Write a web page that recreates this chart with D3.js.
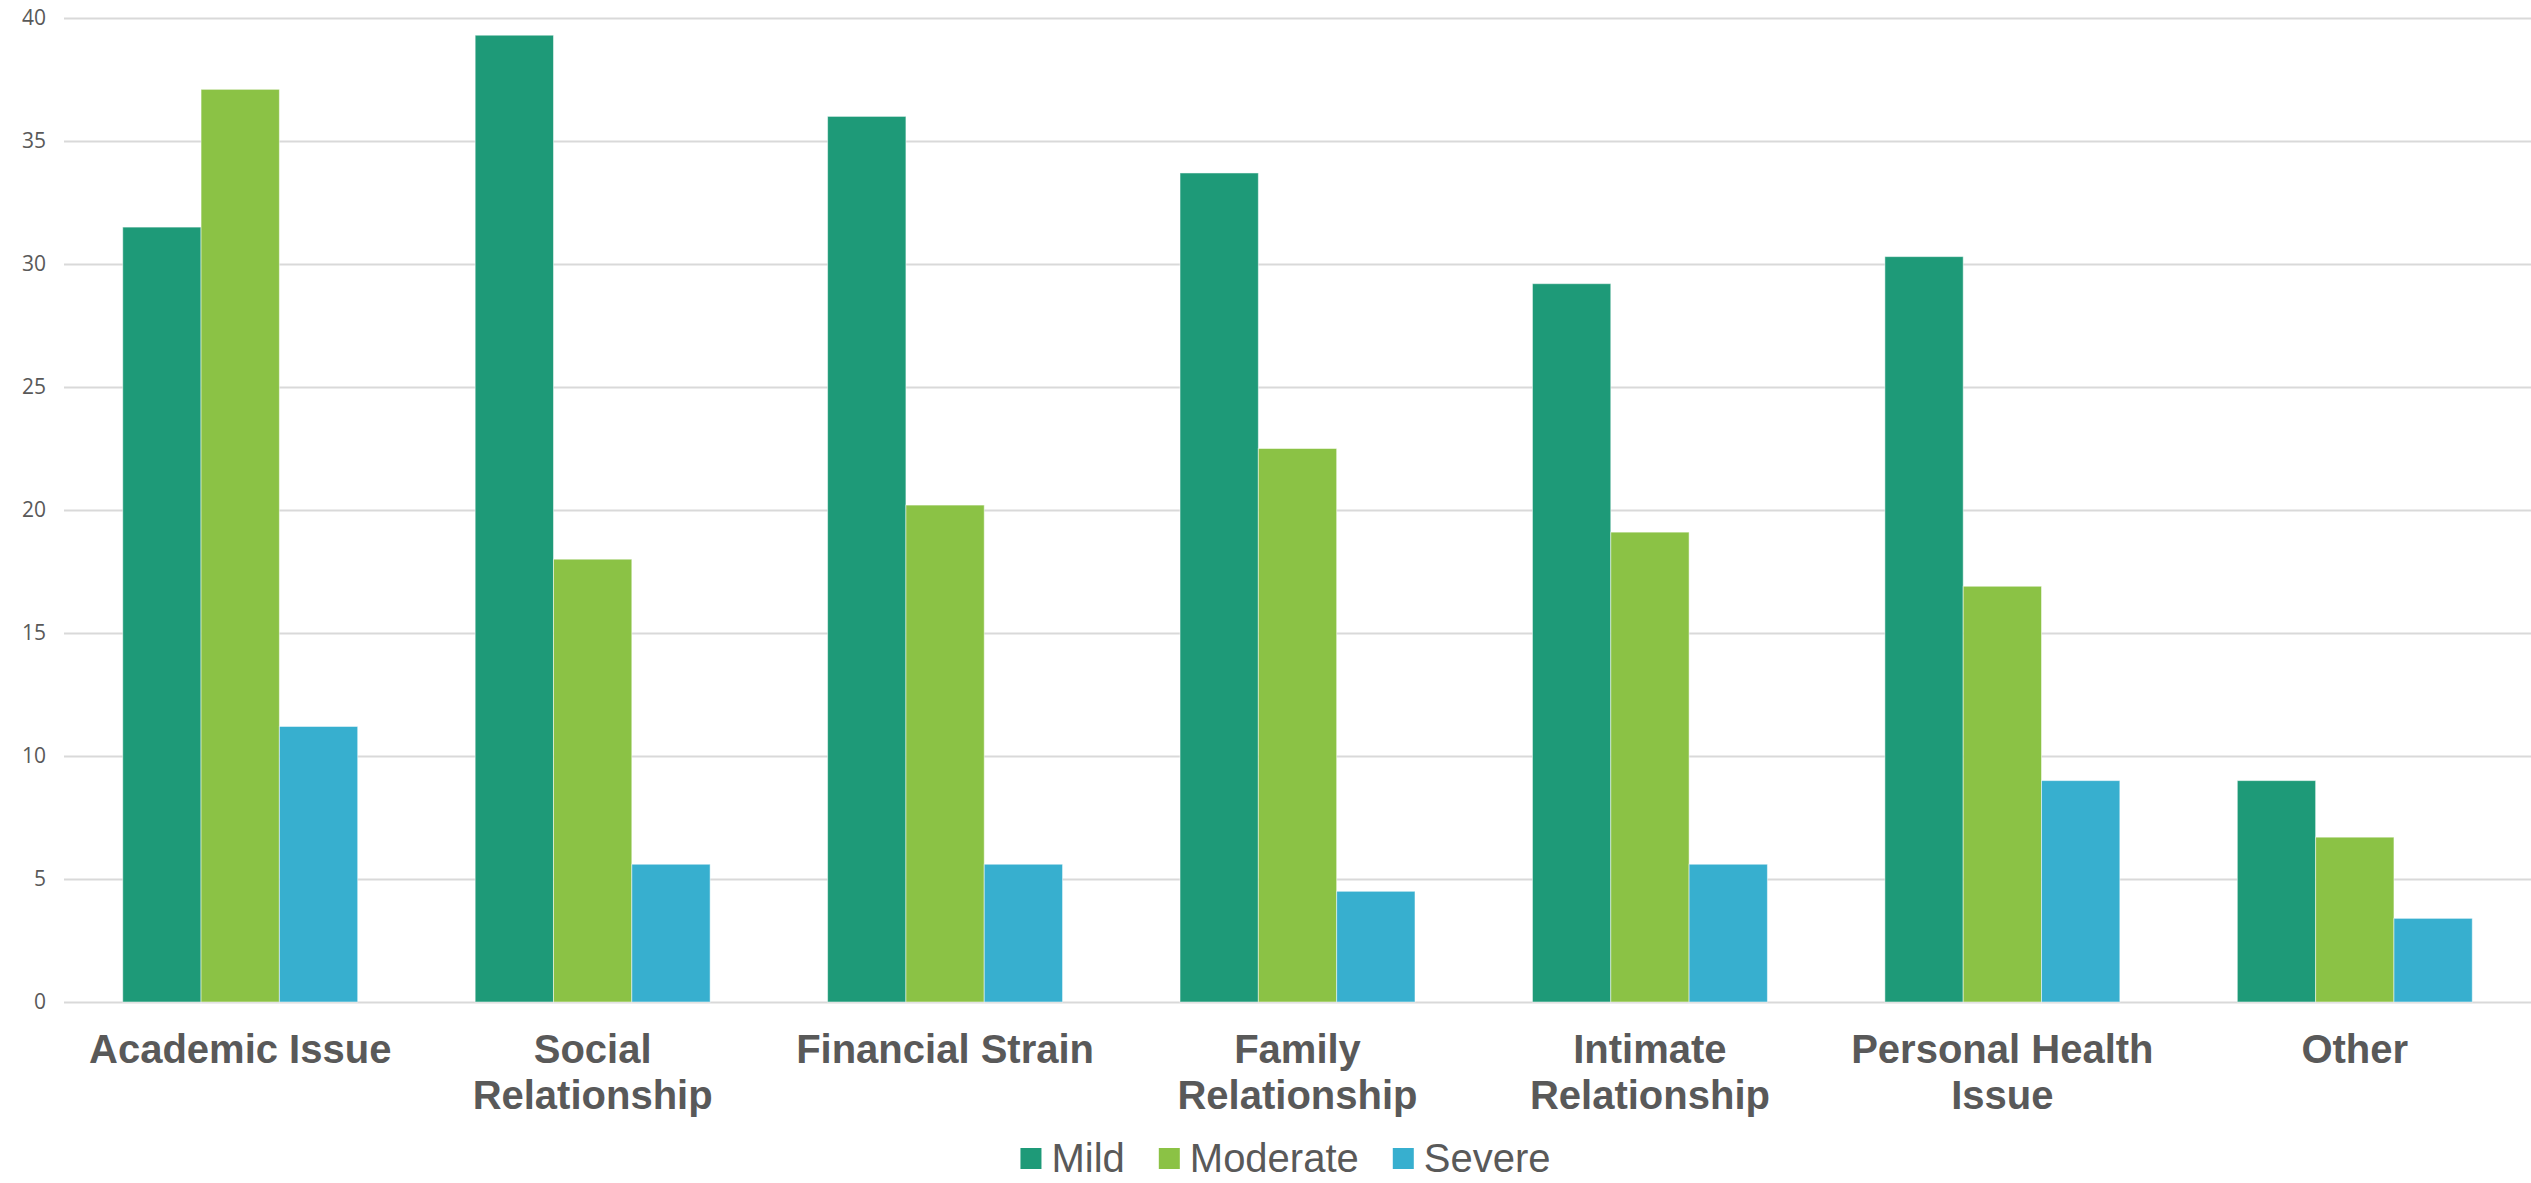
<!DOCTYPE html>
<html>
<head>
<meta charset="utf-8">
<script src="https://cdn.jsdelivr.net/npm/d3@7"></script>
<style>
  html, body { margin: 0; padding: 0; background: #fff; }
  svg { display: block; }
</style>
</head>
<body>
<svg id="chart"></svg>
<script>
// chart data
const categories = [
    ['Academic Issue'],
    ['Social', 'Relationship'],
    ['Financial Strain'],
    ['Family', 'Relationship'],
    ['Intimate', 'Relationship'],
    ['Personal Health', 'Issue'],
    ['Other'],
]
const seriesNames = ['Mild', 'Moderate', 'Severe']
const mild = [31.5, 39.3, 36.0, 33.7, 29.2, 30.3, 9.0]
const moderate = [37.1, 18.0, 20.2, 22.5, 19.1, 16.9, 6.7]
const severe = [11.2, 5.6, 5.6, 4.5, 5.6, 9.0, 3.4]
const yTicks = [0, 5, 10, 15, 20, 25, 30, 35, 40]

const width = 2531
const height = 1183
const margin = { left: 64, right: 0, top: 18, bottom: 181 }

const colors = ['#1e9a78', '#8bc245', '#37afcf']
const textGrey = '#595959'

const svg = d3.select('#chart').attr('width', width).attr('height', height)

const catKeys = categories.map((c) => c.join(' '))
const seriesValues = [mild, moderate, severe]

const x0 = d3.scaleBand()
    .domain(catKeys)
    .range([margin.left, width - margin.right])
    .paddingInner(1 / 3)
    .paddingOuter(1 / 6)

const x1 = d3.scaleBand()
    .domain(seriesNames)
    .range([0, x0.bandwidth()])

const y = d3.scaleLinear()
    .domain([0, 40])
    .range([height - margin.bottom, margin.top])

// gridlines + y labels
const yAxis = d3.axisLeft(y)
    .tickValues(yTicks)
    .tickSize(-(width - margin.left - margin.right))
    .tickPadding(18)

const yG = svg.append('g')
    .attr('transform', `translate(${margin.left},0)`)
    .call(yAxis)
yG.select('.domain').remove()
yG.selectAll('.tick line').attr('stroke', '#d9d9d9').attr('stroke-width', 2)
yG.selectAll('.tick text')
    .attr('fill', textGrey)
    .style('font-family', '"Open Sans", "Liberation Sans", sans-serif')
    .style('font-size', '21px')

// bars
const groups = svg.append('g')
    .selectAll('g')
    .data(catKeys)
    .join('g')
    .attr('transform', (d) => `translate(${x0(d)},0)`)

groups.selectAll('rect')
    .data((d, i) => seriesNames.map((s, j) => ({ s, j, v: seriesValues[j][i] })))
    .join('rect')
    .attr('x', (d) => x1(d.s))
    .attr('width', x1.bandwidth())
    .attr('y', (d) => y(d.v))
    .attr('height', (d) => y(0) - y(d.v))
    .attr('fill', (d) => colors[d.j])
    .attr('stroke', '#ffffff')
    .attr('stroke-opacity', 0.5)
    .attr('stroke-width', 1)

// category labels
const labels = svg.append('g')
    .selectAll('text')
    .data(categories)
    .join('text')
    .attr('x', (d, i) => x0(catKeys[i]) + x0.bandwidth() / 2)
    .attr('y', 1063)
    .attr('text-anchor', 'middle')
    .attr('fill', textGrey)
    .style('font-family', '"Liberation Sans", Arial, sans-serif')
    .style('font-weight', 'bold')
    .style('font-size', '40px')

labels.selectAll('tspan')
    .data((d) => d)
    .join('tspan')
    .attr('x', function () { return d3.select(this.parentNode).attr('x') })
    .attr('dy', (d, i) => (i === 0 ? 0 : 46))
    .text((d) => d)

// legend
const legend = svg.append('g')
const sq = 21
const itemGap = 34
let cursor = 0
seriesNames.forEach((name, i) => {
    const g = legend.append('g').attr('transform', `translate(${cursor},0)`)
    g.append('rect')
        .attr('x', 0)
        .attr('y', -24)
        .attr('width', sq)
        .attr('height', sq)
        .attr('fill', colors[i])
    const t = g.append('text')
        .attr('x', sq + 10)
        .attr('y', 0)
        .attr('fill', textGrey)
        .style('font-family', '"Liberation Sans", Arial, sans-serif')
        .style('font-size', '40px')
        .text(name)
    cursor += sq + 10 + t.node().getComputedTextLength() + itemGap
})
const legendWidth = cursor - itemGap
legend.attr('transform', `translate(${(margin.left + width) / 2 - 12 - legendWidth / 2},1172)`)
</script>
</body>
</html>
